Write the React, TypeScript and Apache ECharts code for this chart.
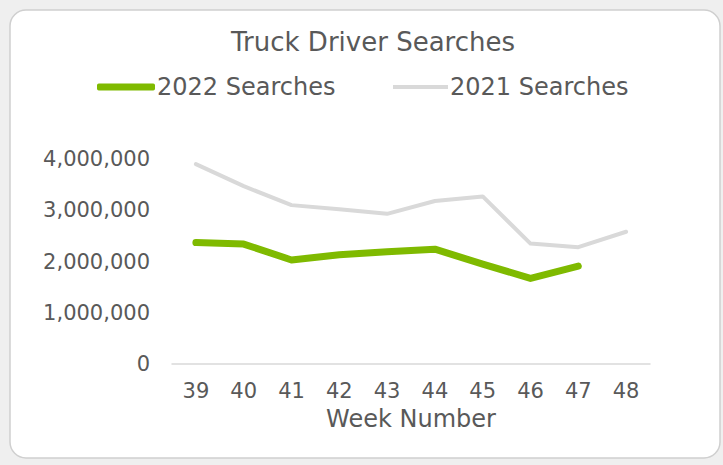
import React, { useEffect, useRef } from "react";
import * as echarts from "echarts";

const weeks = ["39", "40", "41", "42", "43", "44", "45", "46", "47", "48"];
const searches2022 = [2370000, 2340000, 2030000, 2130000, 2190000, 2240000, 1950000, 1670000, 1910000];
const searches2021 = [3900000, 3470000, 3100000, 3020000, 2930000, 3180000, 3270000, 2350000, 2280000, 2580000];
const yTicks = [0, 1000000, 2000000, 3000000, 4000000];

const FONT = "DejaVu Sans";
const TXT = "#595959";
const GREEN = "#7fba00";
const GREY = "#d9d9d9";

export default function App() {
  const ref = useRef<HTMLDivElement>(null);
  useEffect(() => {
    document.body.style.margin = "0";
    const chart = echarts.init(ref.current!, null, { renderer: "svg" });
    chart.setOption({
      animation: false,
      backgroundColor: "#efefef",
      textStyle: { fontFamily: FONT, color: TXT },
      graphic: [
        {
          type: "rect",
          z: -10,
          silent: true,
          shape: { x: 10, y: 10, width: 710, height: 448, r: 16 },
          style: { fill: "#ffffff", stroke: "#cfcfcf", lineWidth: 1.5 },
        },
      ],
      title: {
        text: "Truck Driver Searches",
        left: 368,
        textAlign: "center",
        top: 24,
        textStyle: { fontFamily: FONT, fontSize: 26, fontWeight: "normal", color: TXT },
      },
      legend: [
        {
          left: 97,
          top: 75,
          padding: 0,
          itemWidth: 58,
          itemHeight: 7,
          icon: "roundRect",
          textStyle: { fontFamily: FONT, fontSize: 24, color: TXT, padding: [0, 0, 0, -3] },
          data: ["2022 Searches"],
        },
        {
          left: 393,
          top: 75,
          padding: 0,
          itemWidth: 55,
          itemHeight: 4,
          icon: "rect",
          textStyle: { fontFamily: FONT, fontSize: 24, color: TXT, padding: [0, 0, 0, -3] },
          data: ["2021 Searches"],
        },
      ],
      grid: { left: 172, right: 73, top: 159, bottom: 101 },
      xAxis: {
        type: "category",
        data: weeks,
        boundaryGap: true,
        name: "Week Number",
        nameLocation: "middle",
        nameGap: 43,
        nameTextStyle: { fontFamily: FONT, fontSize: 24, color: TXT },
        axisLine: { show: true, lineStyle: { color: GREY, width: 1.5 } },
        axisTick: { show: false },
        axisLabel: { fontFamily: FONT, fontSize: 21, color: TXT, margin: 16 },
      },
      yAxis: {
        type: "value",
        min: yTicks[0],
        max: yTicks[yTicks.length - 1],
        interval: yTicks[1] - yTicks[0],
        splitLine: { show: false },
        axisLine: { show: false },
        axisTick: { show: false },
        axisLabel: {
          fontFamily: FONT,
          fontSize: 21,
          color: TXT,
          margin: 22,
          formatter: (v: number) => v.toLocaleString("en-US"),
        },
      },
      series: [
        {
          name: "2022 Searches",
          type: "line",
          data: searches2022,
          symbol: "none",
          z: 3,
          itemStyle: { color: GREEN },
          lineStyle: { color: GREEN, width: 7, cap: "round", join: "round" },
        },
        {
          name: "2021 Searches",
          type: "line",
          data: searches2021,
          symbol: "none",
          z: 2,
          itemStyle: { color: GREY },
          lineStyle: { color: GREY, width: 4, cap: "round", join: "round" },
        },
      ],
    });
    return () => chart.dispose();
  }, []);
  return <div ref={ref} style={{ width: 723, height: 465 }} />;
}
